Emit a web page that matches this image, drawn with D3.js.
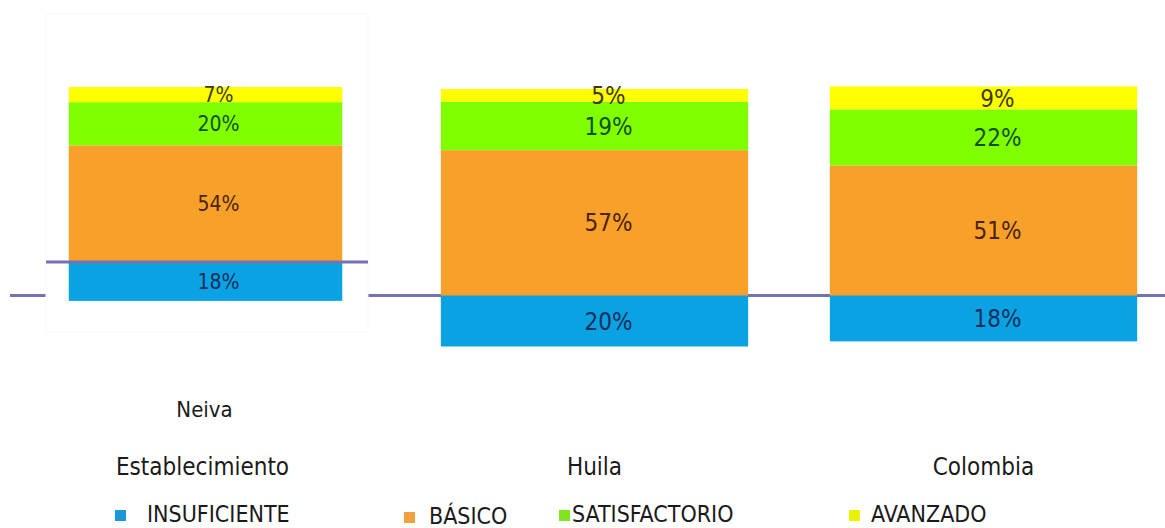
<!DOCTYPE html>
<html>
<head>
<meta charset="utf-8">
<script src="https://cdn.jsdelivr.net/npm/d3@7"></script>
<style>
  html, body { margin: 0; padding: 0; background: #ffffff; }
  svg { display: block; }
  text { font-family: "DejaVu Sans Condensed", "DejaVu Sans", Verdana, sans-serif; font-stretch: condensed; }
</style>
</head>
<body>
<svg id="chart" width="1165" height="528"></svg>
<script>
// ---- data ----
const categories = ["Establecimiento", "Huila", "Colombia"];
const subLabels = ["Neiva", "", ""];
const insuficiente = [18, 20, 18];
const basico = [54, 57, 51];
const satisfactorio = [20, 19, 22];
const avanzado = [7, 5, 9];
const seriesKeys = ["insuficiente", "basico", "satisfactorio", "avanzado"];
const seriesNames = ["INSUFICIENTE", "BÁSICO", "SATISFACTORIO", "AVANZADO"];

// ---- styles ----
const colors = { insuficiente: "#0aa2e3", basico: "#f7a12a", satisfactorio: "#80ff00", avanzado: "#ffff00" };
const textColors = { insuficiente: "#10305a", basico: "#4a2208", satisfactorio: "#10500c", avanzado: "#3c3a00" };
const legendColors = { insuficiente: "#1b98d8", basico: "#f0a23e", satisfactorio: "#7fe51c", avanzado: "#eaf200" };

const svg = d3.select("#chart");
const W = 1165, H = 528;

const rows = categories.map((c, i) => ({
  cat: c,
  insuficiente: -insuficiente[i],
  basico: basico[i],
  satisfactorio: satisfactorio[i],
  avanzado: avanzado[i]
}));
const raw = { insuficiente, basico, satisfactorio, avanzado };

const stack = d3.stack().keys(seriesKeys).offset(d3.stackOffsetDiverging);
const stacked = stack(rows);

// x band scale shared (first bar lives in a scaled inset panel)
const x = d3.scaleBand().domain(categories).range([11, 1178]).paddingInner(0.21).paddingOuter(0.105);

// y scales: main panel and inset (Neiva) panel
const yMain = d3.scaleLinear().domain([0, 100]).range([295.5, 295.5 - 255]);
const yInset = d3.scaleLinear().domain([0, 100]).range([262, 262 - 216]);
const insetK = 0.89;

function yFor(i) { return i === 0 ? yInset : yMain; }
function bx(cat, i) {
  const c = x(cat) + x.bandwidth() / 2;
  const w = i === 0 ? x.bandwidth() * insetK : x.bandwidth();
  return [c - w / 2, w];
}

// main baseline
svg.append("line")
  .attr("x1", 10).attr("x2", W)
  .attr("y1", yMain(0)).attr("y2", yMain(0))
  .attr("stroke", "#7472b4").attr("stroke-width", 3);

// inset panel (covers main baseline)
const insetX0 = 46, insetX1 = 368;
svg.append("rect")
  .attr("x", insetX0).attr("y", 14)
  .attr("width", insetX1 - insetX0).attr("height", 318)
  .attr("fill", "#ffffff").attr("stroke", "#f9f9f9").attr("stroke-width", 1);

// bars
const gBars = svg.append("g");
stacked.forEach(series => {
  const key = series.key;
  series.forEach((d, i) => {
    const y = yFor(i);
    const [x0, w] = bx(categories[i], i);
    const top = y(Math.max(d[0], d[1]));
    const bot = y(Math.min(d[0], d[1]));
    gBars.append("rect")
      .attr("x", x0).attr("y", top)
      .attr("width", w).attr("height", bot - top)
      .attr("fill", colors[key]);
  });
});

// inset baseline
svg.append("line")
  .attr("x1", insetX0).attr("x2", insetX1)
  .attr("y1", yInset(0)).attr("y2", yInset(0))
  .attr("stroke", "#7472b4").attr("stroke-width", 3);

// value labels
const gLab = svg.append("g");
stacked.forEach(series => {
  const key = series.key;
  series.forEach((d, i) => {
    const y = yFor(i);
    const [x0, w] = bx(categories[i], i);
    const cy = (y(d[0]) + y(d[1])) / 2;
    gLab.append("text")
      .attr("x", x0 + w / 2 + (i === 0 ? 13 : 14))
      .attr("y", cy)
      .attr("dy", "0.36em")
      .attr("text-anchor", "middle")
      .attr("font-size", i === 0 ? 21 : 24)
      .attr("fill", textColors[key])
      .text(raw[key][i] + "%");
  });
});

// category labels
categories.forEach((c, i) => {
  const cx = x(c) + x.bandwidth() / 2;
  svg.append("text")
    .attr("x", cx - (i === 0 ? 3 : 0)).attr("y", 475)
    .attr("text-anchor", "middle")
    .attr("font-size", 24).attr("fill", "#1a1a1a")
    .text(c);
  if (subLabels[i]) {
    svg.append("text")
      .attr("x", cx - 1).attr("y", 417)
      .attr("text-anchor", "middle")
      .attr("font-size", 22).attr("fill", "#1a1a1a")
      .text(subLabels[i]);
  }
});

// legend
const legendLayout = [
  { sx: 115, tx: 147, base: 522 },
  { sx: 404, tx: 429, base: 524 },
  { sx: 559, tx: 572, base: 522 },
  { sx: 849, tx: 871, base: 522 }
];
seriesKeys.forEach((k, i) => {
  const L = legendLayout[i];
  svg.append("rect")
    .attr("x", L.sx).attr("y", L.base - 12)
    .attr("width", 11).attr("height", 11)
    .attr("fill", legendColors[k]);
  svg.append("text")
    .attr("x", L.tx).attr("y", L.base)
    .attr("font-size", 23).attr("fill", "#1a1a1a")
    .text(seriesNames[i]);
});
</script>
</body>
</html>
